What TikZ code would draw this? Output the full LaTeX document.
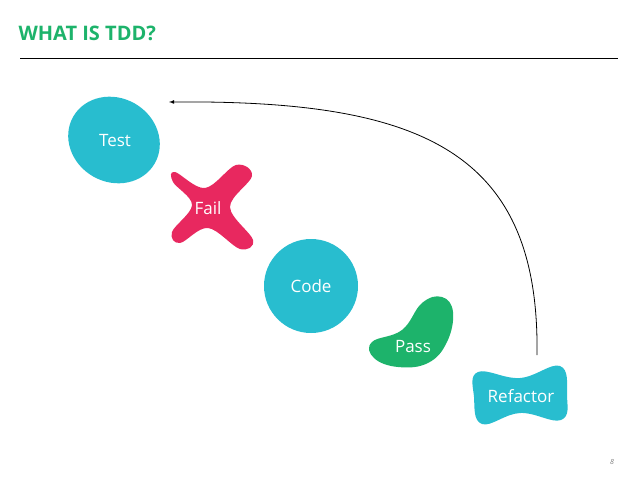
\documentclass[tikz,border=0pt]{standalone}
\usepackage{fontspec}
\setmainfont{Open Sans}
\definecolor{tddgreen}{HTML}{1DB36B}
\definecolor{tddcyan}{HTML}{28BDCF}
\definecolor{tddpink}{HTML}{E8285F}
\tikzset{
  blobtext/.style={text=white,font=\fontsize{17}{20}\selectfont},
}
\begin{document}
\begin{tikzpicture}[x=1pt,y=-1pt]
\useasboundingbox (0,0) rectangle (638,479);

\node[anchor=west,text=tddgreen,font=\fontsize{20}{24}\selectfont\bfseries] (title) at (15,33) {WHAT IS TDD?};
\draw[line width=0.6pt] (20,58) -- (618,58);

% blobs
\fill[tddcyan,rotate around={-30:(114,140)}] (114,140) ellipse[x radius=47,y radius=42];
\fill[tddpink] plot[smooth cycle,tension=0.6] coordinates
  {(175,172) (205,188) (236,165) (252,176) (230,207) (253,240) (240,249) (208,228) (180,243) (172,232) (192,205) (173,182)};
\fill[tddcyan] (311,286) circle[radius=47];
\fill[tddgreen] plot[smooth cycle,tension=0.7] coordinates
  {(372,342) (402,330) (422,303) (442,297) (453,312) (447,342) (428,363) (398,367) (374,358)};
\fill[tddcyan] plot[smooth cycle,tension=0.7] coordinates
  {(478,372) (520,378) (560,366) (567,395) (561,420) (520,413) (482,424) (474,397)};

\node[blobtext] (test) at (115,141) {Test};
\node[blobtext] (fail) at (208,208) {Fail};
\node[blobtext] (code) at (311,286) {Code};
\node[blobtext] (pass) at (413,347) {Pass};
\node[blobtext] (refactor) at (521,396) {Refactor};

\coordinate (from) at (537,355);
\coordinate (to) at (169,102);
\draw[-latex,line width=0.8pt] (from) .. controls (540,150) and (420,100) .. (to);

\node[text=gray,font=\fontsize{7}{8}\selectfont\itshape] (page) at (612,462) {8};
\end{tikzpicture}
\end{document}
